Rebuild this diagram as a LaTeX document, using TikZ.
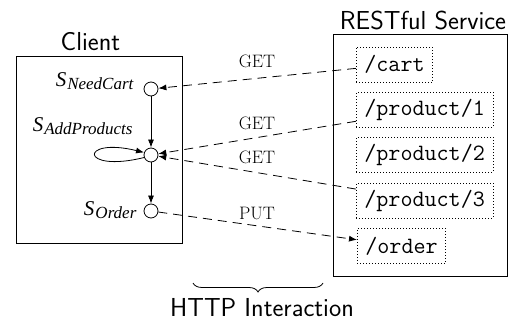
\documentclass[tikz,border=0pt]{standalone}
\usepackage{fontspec}
\newfontfamily\gvfont{Liberation Serif}
\usetikzlibrary{arrows.meta,decorations.pathreplacing}
\newcommand\stlabel[1]{{\fontsize{21}{21}\selectfont S}\kern1pt\raisebox{-3pt}{\fontsize{17}{17}\selectfont #1}}
\begin{document}
\begin{tikzpicture}[x=1pt,y=-1pt,
  box/.style={draw,line width=1pt,inner sep=0pt},
  res/.style={draw,line width=0.7pt,dash pattern=on 0.7pt off 2.3pt,anchor=west,font=\fontsize{23.4}{23.4}\selectfont\ttfamily,inner xsep=8pt,inner ysep=0pt,minimum height=35pt},
  state/.style={circle,draw,line width=0.8pt,minimum size=14pt,inner sep=0pt},
  flow/.style={-{Latex[length=8pt,width=6pt]},line width=0.8pt},
  msg/.style={flow,dash pattern=on 9pt off 6pt},
  method/.style={font=\fontsize{18}{18}\selectfont,anchor=base},
  title/.style={font=\fontsize{26}{26}\selectfont\sffamily,anchor=base},
  slabel/.style={font=\gvfont\itshape,anchor=base east,inner sep=0pt},
]
\useasboundingbox (0,0) rectangle (508,320);
% containers
\node[box,minimum width=166pt,minimum height=186pt] (client) at (99,150) {};
\node[box,minimum width=174pt,minimum height=241pt] (service) at (420,155.5) {};
\node[title] (clientT) at (90.5,50.5) {Client};
\node[title] (serviceT) at (423,30) {RESTful Service};
% resources
\node[res] (cart) at (356,64.5) {/cart};
\node[res] (p1) at (356,110) {/product/1};
\node[res] (p2) at (356,155) {/product/2};
\node[res] (p3) at (356,200.5) {/product/3};
\node[res] (order) at (357,246) {/order};
% states
\node[state] (c1) at (151,89) {};
\node[state] (c2) at (151,155) {};
\node[state] (c3) at (151,211) {};
\node[slabel] (l1) at ([xshift=-10pt,yshift=2pt]c1.west) {\stlabel{NeedCart}};
\node[slabel] (l2) at ([xshift=-11pt,yshift=23pt]c2.west) {\stlabel{AddProducts}};
\node[slabel] (l3) at ([xshift=-7pt,yshift=-4pt]c3.west) {\stlabel{Order}};
% transitions
\draw[flow] (c1) -- (c2);
\draw[flow] (c2) -- (c3);
\draw[flow] (c2.200) .. controls +(-65,16) and +(-65,-16) .. (c2.160);
% interactions
\draw[msg] (cart) -- (c1);
\draw[msg] (p1) -- (c2);
\draw[msg] (p3) -- (c2);
\draw[msg] (c3) -- (order);
\node[method] (g1) at (257,68) {GET};
\node[method] (g2) at (257,130) {GET};
\node[method] (g3) at (257,164) {GET};
\node[method] (pu) at (257,220) {PUT};
% brace
\coordinate (bl) at (193,283);
\coordinate (br) at (323,283);
\draw[line width=0.8pt,decorate,decoration={brace,amplitude=9pt,mirror}] (bl) -- (br);
\node[title] (http) at (262,316) {HTTP Interaction};
\end{tikzpicture}
\end{document}
